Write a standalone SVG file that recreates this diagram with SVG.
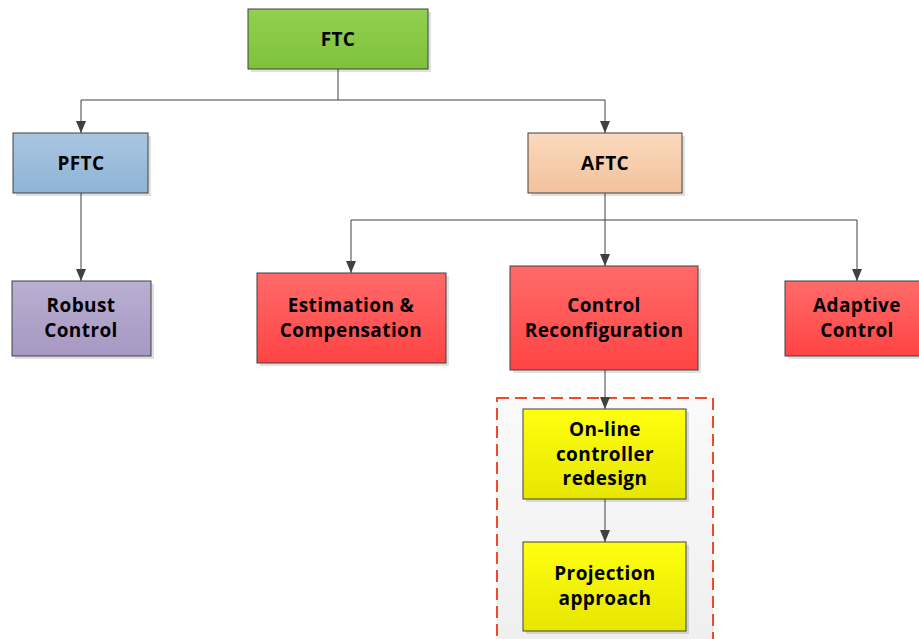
<svg xmlns="http://www.w3.org/2000/svg" width="919" height="639" viewBox="0 0 919 639">
  <defs>
    <linearGradient id="gGreen" x1="0" y1="0" x2="0" y2="1">
      <stop offset="0" stop-color="#92d050"/>
      <stop offset="1" stop-color="#7ec23c"/>
    </linearGradient>
    <linearGradient id="gBlue" x1="0" y1="0" x2="0" y2="1">
      <stop offset="0" stop-color="#a9c6e0"/>
      <stop offset="1" stop-color="#8fb4d6"/>
    </linearGradient>
    <linearGradient id="gPeach" x1="0" y1="0" x2="0" y2="1">
      <stop offset="0" stop-color="#fbd9bd"/>
      <stop offset="1" stop-color="#f2c29c"/>
    </linearGradient>
    <linearGradient id="gPurple" x1="0" y1="0" x2="0" y2="1">
      <stop offset="0" stop-color="#b9afd2"/>
      <stop offset="1" stop-color="#a798c2"/>
    </linearGradient>
    <linearGradient id="gRed" x1="0" y1="0" x2="0" y2="1">
      <stop offset="0" stop-color="#ff6a6a"/>
      <stop offset="1" stop-color="#ff4444"/>
    </linearGradient>
    <linearGradient id="gYellow" x1="0" y1="0" x2="0" y2="1">
      <stop offset="0" stop-color="#ffff10"/>
      <stop offset="1" stop-color="#e6e600"/>
    </linearGradient>
    <linearGradient id="gPanel" x1="0" y1="0" x2="0" y2="1">
      <stop offset="0" stop-color="#fafafa"/>
      <stop offset="1" stop-color="#efefef"/>
    </linearGradient>
    <!-- filled triangular arrowhead, tip at the end of the line -->
    <marker id="arrow" viewBox="0 0 12 10" refX="12" refY="5" markerWidth="12" markerHeight="10" markerUnits="userSpaceOnUse" orient="auto-start-reverse">
      <path d="M0,0 L12,5 L0,10 Z" fill="#404040"/>
    </marker>
  </defs>
  <style>
    .box { stroke: #404040; stroke-width: 1; }
    .shadow { fill: #000; opacity: 0.12; }
    .label { font-family: "Open Sans", "DejaVu Sans", sans-serif; font-weight: bold; font-size: 19px; letter-spacing: 0.4px; fill: #000; text-anchor: middle; }
    .wire { fill: none; stroke: #404040; stroke-width: 1; }
  </style>

  <!-- dashed group panel -->
  <g id="reconfig-panel">
    <rect x="497" y="398" width="216" height="245" fill="url(#gPanel)" stroke="#f04a2a" stroke-width="2" stroke-dasharray="12,6"/>
  </g>

  <!-- connectors -->
  <g id="connectors">
    <polyline class="wire" points="338,69 338,100"/>
    <polyline class="wire" points="81,133 81,100 605,100 605,133" marker-start="url(#arrow)" marker-end="url(#arrow)"/>
    <polyline class="wire" points="81,193 81,281" marker-end="url(#arrow)"/>
    <polyline class="wire" points="605,193 605,266" marker-end="url(#arrow)"/>
    <polyline class="wire" points="351,273 351,220 857,220 857,281" marker-start="url(#arrow)" marker-end="url(#arrow)"/>
    <polyline class="wire" points="605,370 605,409" marker-end="url(#arrow)"/>
    <polyline class="wire" points="605,499 605,542" marker-end="url(#arrow)"/>
  </g>

  <g id="ftc">
    <rect class="shadow" x="251" y="12" width="180" height="60"/>
    <rect class="box" x="248" y="9" width="180" height="60" fill="url(#gGreen)"/>
    <text class="label" x="338" y="46">FTC</text>
  </g>

  <g id="pftc">
    <rect class="shadow" x="16" y="136" width="135" height="60"/>
    <rect class="box" x="13" y="133" width="135" height="60" fill="url(#gBlue)"/>
    <text class="label" x="81" y="170">PFTC</text>
  </g>

  <g id="aftc">
    <rect class="shadow" x="531" y="136" width="154" height="60"/>
    <rect class="box" x="528" y="133" width="154" height="60" fill="url(#gPeach)"/>
    <text class="label" x="605" y="170">AFTC</text>
  </g>

  <g id="robust-control">
    <rect class="shadow" x="15" y="284" width="139" height="75"/>
    <rect class="box" x="12" y="281" width="139" height="75" fill="url(#gPurple)"/>
    <text class="label" x="81" y="312">Robust</text>
    <text class="label" x="81" y="337">Control</text>
  </g>

  <g id="estimation-compensation">
    <rect class="shadow" x="260" y="276" width="189" height="90"/>
    <rect class="box" x="257" y="273" width="189" height="90" fill="url(#gRed)"/>
    <text class="label" x="351" y="312">Estimation &amp;</text>
    <text class="label" x="351" y="337">Compensation</text>
  </g>

  <g id="control-reconfiguration">
    <rect class="shadow" x="513" y="269" width="188" height="104"/>
    <rect class="box" x="510" y="266" width="188" height="104" fill="url(#gRed)"/>
    <text class="label" x="604" y="312">Control</text>
    <text class="label" x="604" y="337">Reconfiguration</text>
  </g>

  <g id="adaptive-control">
    <rect class="shadow" x="788" y="284" width="140" height="75"/>
    <rect class="box" x="785" y="281" width="140" height="75" fill="url(#gRed)"/>
    <text class="label" x="857" y="312">Adaptive</text>
    <text class="label" x="857" y="337">Control</text>
  </g>

  <g id="online-redesign">
    <rect class="shadow" x="526" y="412" width="163" height="90"/>
    <rect class="box" x="523" y="409" width="163" height="90" fill="url(#gYellow)"/>
    <text class="label" x="605" y="436">On-line</text>
    <text class="label" x="605" y="461">controller</text>
    <text class="label" x="605" y="485">redesign</text>
  </g>

  <g id="projection-approach">
    <rect class="shadow" x="526" y="545" width="163" height="89"/>
    <rect class="box" x="523" y="542" width="163" height="89" fill="url(#gYellow)"/>
    <text class="label" x="605" y="580">Projection</text>
    <text class="label" x="605" y="605">approach</text>
  </g>
</svg>
